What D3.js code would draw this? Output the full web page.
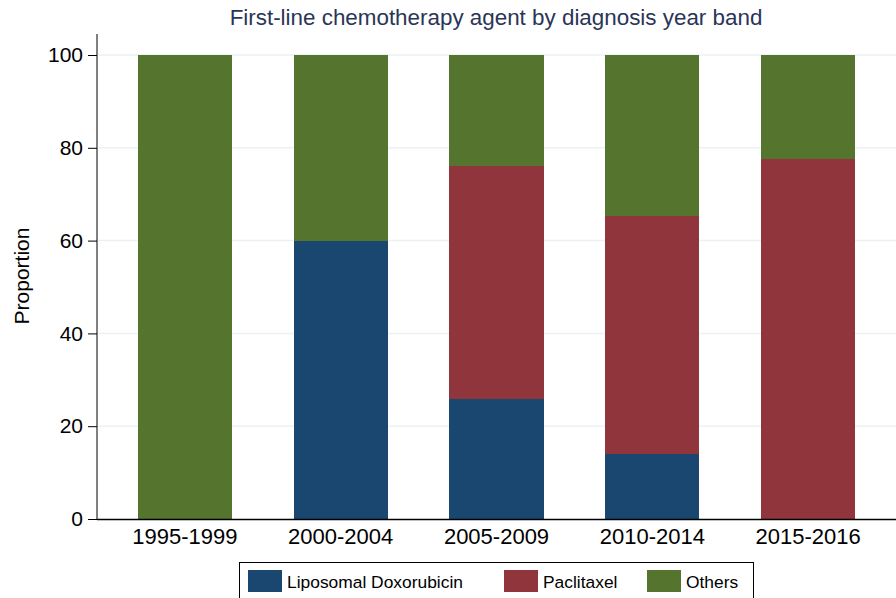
<!DOCTYPE html>
<html>
<head>
<meta charset="utf-8">
<script src="https://cdn.jsdelivr.net/npm/d3@7"></script>
<style>
  body { margin: 0; background: #fff; }
  text { font-family: "Liberation Sans", Arial, sans-serif; }
</style>
</head>
<body>
<div id="chart"></div>
<script>
const W = 896, H = 598
const margin = { top: 34, left: 97, right: 0, bottom: 79 }

// data (percent of patients per band)
const bands = ['1995-1999', '2000-2004', '2005-2009', '2010-2014', '2015-2016']
const liposomalDox = [0, 60, 25.9, 14.1, 0]
const paclitaxel = [0, 0, 50.2, 51.2, 77.6]
const others = [100, 40, 23.9, 34.7, 22.4]
const seriesNames = ['Liposomal Doxorubicin', 'Paclitaxel', 'Others']
const seriesColors = ['#1a476f', '#90353b', '#55752f']
const yTicks = [0, 20, 40, 60, 80, 100]

var rows = bands.map(function(b, i) {
  return { band: b, 'Liposomal Doxorubicin': liposomalDox[i], 'Paclitaxel': paclitaxel[i], 'Others': others[i] }
})
var stacked = d3.stack().keys(seriesNames)(rows)

var svg = d3.select('#chart')
  .append('svg')
  .attr('width', W)
  .attr('height', H)

var y = d3.scaleLinear().domain([0, 100]).range([519, 55])
var x = d3.scaleBand()
  .domain(bands)
  .range([107, 886])
  .paddingInner(0.396)
  .paddingOuter(0.198)

// gridlines
svg.append('g')
  .selectAll('line')
  .data(yTicks.filter(d => d > 0))
  .enter().append('line')
  .attr('x1', margin.left + 1)
  .attr('x2', W)
  .attr('y1', d => y(d))
  .attr('y2', d => y(d))
  .attr('stroke', '#eaf2f3')
  .attr('stroke-width', 1.5)

// bars
svg.append('g')
  .selectAll('g')
  .data(stacked)
  .enter().append('g')
  .attr('fill', (d, i) => seriesColors[i])
  .selectAll('rect')
  .data(d => d)
  .enter().append('rect')
  .attr('x', d => x(d.data.band))
  .attr('width', x.bandwidth())
  .attr('y', d => y(d[1]))
  .attr('height', d => y(d[0]) - y(d[1]))
  .attr('shape-rendering', 'crispEdges')

// y axis
var yAxis = svg.append('g')
  .attr('transform', 'translate(' + margin.left + ',0)')
  .call(d3.axisLeft(y).tickValues(yTicks).tickSize(9).tickPadding(5))
yAxis.select('.domain').remove()
yAxis.append('line')
  .attr('x1', 0).attr('x2', 0)
  .attr('y1', margin.top).attr('y2', 519)
  .attr('stroke', '#000')
yAxis.selectAll('.tick line').attr('stroke', '#000')
yAxis.selectAll('.tick text')
  .attr('font-size', 21)
  .attr('fill', '#000')
  .attr('font-family', '"Liberation Sans", Arial, sans-serif')

// x axis
var xAxis = svg.append('g')
  .attr('transform', 'translate(0,519)')
  .call(d3.axisBottom(x).tickSize(0).tickPadding(9))
xAxis.select('.domain').remove()
xAxis.append('line')
  .attr('x1', margin.left).attr('x2', W)
  .attr('y1', 0.5).attr('y2', 0.5)
  .attr('stroke', '#000')
  .attr('stroke-width', 1.5)
xAxis.selectAll('.tick text')
  .attr('font-size', 22)
  .attr('fill', '#000')
  .attr('font-family', '"Liberation Sans", Arial, sans-serif')

// title
svg.append('text')
  .attr('x', 496)
  .attr('y', 25)
  .attr('text-anchor', 'middle')
  .attr('font-size', 22.4)
  .attr('fill', '#2a3558')
  .text('First-line chemotherapy agent by diagnosis year band')

// y title
svg.append('text')
  .attr('transform', 'translate(29,276) rotate(-90)')
  .attr('text-anchor', 'middle')
  .attr('font-size', 21)
  .attr('fill', '#000')
  .text('Proportion')

// legend
var legend = svg.append('g')
legend.append('rect')
  .attr('x', 239.5).attr('y', 562.5)
  .attr('width', 514).attr('height', 50)
  .attr('fill', '#fff')
  .attr('stroke', '#000')
var legendX = [248, 504, 647]
seriesNames.forEach(function(name, i) {
  legend.append('rect')
    .attr('x', legendX[i]).attr('y', 570)
    .attr('width', 34).attr('height', 22)
    .attr('fill', seriesColors[i])
  legend.append('text')
    .attr('x', legendX[i] + 39)
    .attr('y', 588)
    .attr('font-size', 17.4)
    .attr('fill', '#000')
    .text(name)
})
</script>
</body>
</html>
